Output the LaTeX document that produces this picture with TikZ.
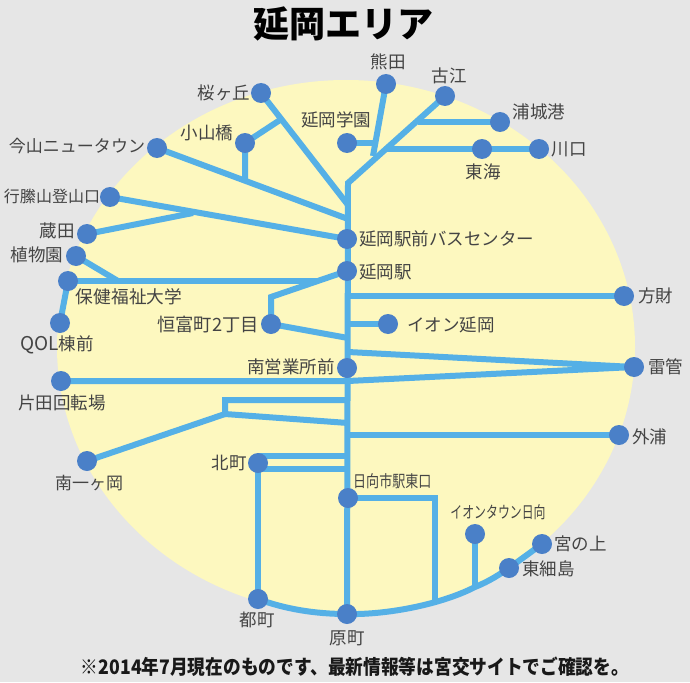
\documentclass[tikz,border=0pt]{standalone}
\usepackage{fontspec}
\usetikzlibrary{backgrounds}
\setmainfont{Noto Sans CJK JP}
\definecolor{bgc}{HTML}{E6E6E6}
\definecolor{yel}{HTML}{FDF8BF}
\definecolor{linec}{HTML}{55B0E6}
\definecolor{stn}{HTML}{4A80C8}
\definecolor{txt}{HTML}{444444}
\tikzset{
  stop/.style={circle,fill=stn,minimum size=20pt,inner sep=0pt},
  lbl/.style={inner sep=0pt,text=txt,font=\fontsize{17.5}{17.5}\selectfont},
  lbe/.style={lbl,anchor=west},
  route/.style={draw=linec,line width=6pt,line join=miter},
}
\begin{document}
\begin{tikzpicture}[x=1pt,y=-1pt]
\path[use as bounding box] (0,0) rectangle (690,682);
% stations
\node[stop] (sakura) at (261,93) {};
\node[stop] (kumata) at (386,84) {};
\node[stop] (furue) at (445,96) {};
\node[stop] (urashiro) at (500,122) {};
\node[stop] (tokai) at (482,149) {};
\node[stop] (kawaguchi) at (539,149) {};
\node[stop] (gakuen) at (347,143) {};
\node[stop] (koyama) at (245,143) {};
\node[stop] (imayama) at (157,148) {};
\node[stop] (mukabaki) at (110,197) {};
\node[stop] (kurata) at (87,234) {};
\node[stop] (shokubutsu) at (76,256) {};
\node[stop] (hoken) at (68,281) {};
\node[stop] (qol) at (60,323) {};
\node[stop] (tsunetomi) at (271,324) {};
\node[stop] (buscenter) at (347,239) {};
\node[stop] (nobeoka) at (347,271) {};
\node[stop] (hozai) at (624,296) {};
\node[stop] (aeon) at (388,324) {};
\node[stop] (minamieigyo) at (347,368) {};
\node[stop] (raikan) at (634,367) {};
\node[stop] (katata) at (61,381) {};
\node[stop] (minamiichi) at (87,461) {};
\node[stop] (kitamachi) at (258,463) {};
\node[stop] (miyakomachi) at (258,599) {};
\node[stop] (haramachi) at (347,614) {};
\node[stop] (hyuga) at (348,498) {};
\node[stop] (sotoura) at (619,435) {};
\node[stop] (aeontown) at (475,534) {};
\node[stop] (miyanoue) at (542,544) {};
\node[stop] (higashi) at (509,568) {};
% junctions
\coordinate (trunktop) at (348,183);
\coordinate (jk) at (373,156);
\coordinate (jg) at (373,143);
\coordinate (ju) at (418,122);
\coordinate (jt) at (387,149);
\coordinate (js) at (348,205);
\coordinate (ji) at (348,219);
\coordinate (jkoy) at (280,120);
\coordinate (jkoyb) at (245,180);
\coordinate (jkur) at (193,213);
\coordinate (jsho) at (118,281);
\coordinate (jhok) at (317,281);
\coordinate (jtsu) at (271,297);
\coordinate (jtsub) at (348,338);
\coordinate (jhoz) at (348,296);
\coordinate (jaeon) at (348,324);
\coordinate (jr1) at (348,352);
\coordinate (jr2) at (348,381);
\coordinate (jb1) at (348,400);
\coordinate (jb2) at (225,400);
\coordinate (jb3) at (225,414);
\coordinate (jb4) at (348,423);
\coordinate (jso) at (348,435);
\coordinate (jn1) at (348,456);
\coordinate (jn2) at (258,456);
\coordinate (jn3) at (348,469);
\coordinate (jn4) at (258,469);
\coordinate (jh1) at (435,498);
\coordinate (jh2) at (435,600);
\coordinate (jat) at (475,587);
\begin{scope}[on background layer]
\fill[bgc] (0,0) rectangle (690,682);
\fill[yel] (346,347) ellipse [x radius=289,y radius=267];
\draw[route] (furue.center) -- (trunktop) -- (haramachi.center);
\draw[route] (kumata.center) -- (jk);
\draw[route] (gakuen.center) -- (jg);
\draw[route] (urashiro.center) -- (ju);
\draw[route] (kawaguchi.center) -- (jt);
\draw[route] (sakura.center) -- (js);
\draw[route] (imayama.center) -- (ji);
\draw[route] (jkoy) -- (koyama.center) -- (jkoyb);
\draw[route] (mukabaki.center) -- (buscenter.center);
\draw[route] (kurata.center) -- (jkur);
\draw[route] (shokubutsu.center) -- (jsho);
\draw[route] (hoken.center) -- (jhok);
\draw[route] (hoken.center) -- (qol.center);
\draw[route] (nobeoka.center) -- (jtsu) -- (tsunetomi.center) -- (jtsub);
\draw[route] (jhoz) -- (hozai.center);
\draw[route] (jaeon) -- (aeon.center);
\draw[route] (jr1) -- (raikan.center) -- (jr2) -- (katata.center);
\draw[route] (jb1) -- (jb2) -- (jb3) -- (jb4);
\draw[route] (jb3) -- (minamiichi.center);
\draw[route] (jso) -- (sotoura.center);
\draw[route] (jn1) -- (jn2);
\draw[route] (jn3) -- (jn4);
\draw[route] (kitamachi.center) -- (miyakomachi.center);
\draw[route] (hyuga.center) -- (jh1) -- (jh2);
\draw[route] (aeontown.center) -- (jat);
\draw[route] (miyakomachi.center) .. controls (285,609) and (315,614) .. (haramachi.center)
  .. controls (385,615) and (440,605) .. (jat)
  .. controls (490,581) and (500,574) .. (higashi.center) -- (miyanoue.center);
\end{scope}
% labels
\node[inner sep=0pt,text=black,font=\fontsize{36}{36}\selectfont\bfseries] (title) at (343,24) {延岡エリア};
\node[lbl] (l1) at (388,62) {熊田};
\node[lbl] (l2) at (449,76) {古江};
\node[lbl] (l3) at (539,112) {浦城港};
\node[lbl] (l4) at (569,149) {川口};
\node[lbl] (l5) at (483,172) {東海};
\node[lbl] (l6) at (336,120) {延岡学園};
\node[lbl] (l7) at (224,93) {桜ヶ丘};
\node[lbl] (l8) at (207,133) {小山橋};
\node[lbl,font=\fontsize{17}{17}\selectfont] (l9) at (77,146) {今山ニュータウン};
\node[lbl,font=\fontsize{16}{16}\selectfont] (l10) at (52,196) {行縢山登山口};
\node[lbl] (l11) at (57,231) {蔵田};
\node[lbl] (l12) at (37,255) {植物園};
\node[lbl,font=\fontsize{17.7}{17.7}\selectfont] (l13) at (129,297) {保健福祉大学};
\node[lbl] (l14) at (57,345) {{\fontsize{19}{19}\selectfont QOL}棟前};
\node[lbl,font=\fontsize{18.3}{18.3}\selectfont] (l15) at (208,325) {恒富町2丁目};
\node[lbe,font=\fontsize{17.5}{17.5}\selectfont] (l16) at (359,239) {延岡駅前バスセンター};
\node[lbe] (l17) at (359,272) {延岡駅};
\node[lbe] (l18) at (638,296) {方財};
\node[lbe] (l19) at (407,325) {イオン延岡};
\node[lbl] (l20) at (291,367) {南営業所前};
\node[lbe] (l21) at (648,367) {雷管};
\node[lbl] (l22) at (62,403) {片田回転場};
\node[lbl,font=\fontsize{17}{17}\selectfont] (l23) at (89,483) {南一ヶ岡};
\node[lbl] (l24) at (229,463) {北町};
\node[lbl] (l25) at (257,620) {都町};
\node[lbl] (l26) at (347,638) {原町};
\node[lbe,font=\fontsize{16.5}{16.5}\selectfont] (l27) at (353,481) {\scalebox{0.79}[1]{日向市駅東口}};
\node[lbl,font=\fontsize{16.5}{16.5}\selectfont] (l28) at (498,512) {\scalebox{0.72}[1]{イオンタウン日向}};
\node[lbe] (l29) at (632,437) {外浦};
\node[lbe] (l30) at (554,544) {宮の上};
\node[lbe] (l31) at (522,569) {東細島};
\node[inner sep=0pt,text=black!90,font=\fontsize{20}{20}\selectfont\bfseries] (note) at (355,667) {\scalebox{0.885}[1]{※2014年7月現在のものです、最新情報等は宮交サイトでご確認を。}};
\end{tikzpicture}
\end{document}
